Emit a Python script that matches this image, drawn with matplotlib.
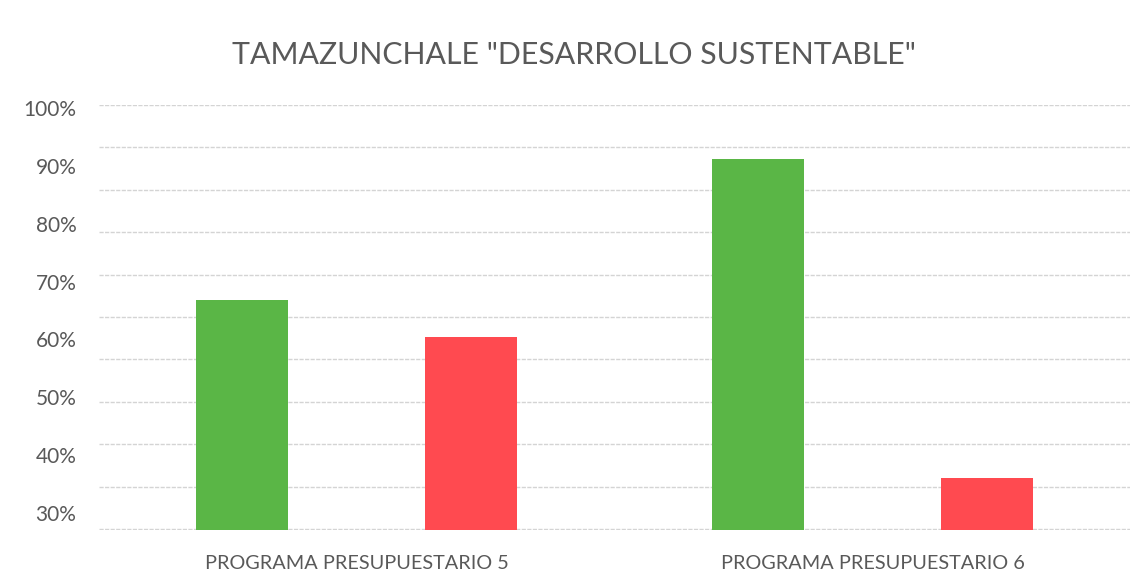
import matplotlib.pyplot as plt
import numpy as np

# datos
programas = ["PROGRAMA PRESUPUESTARIO 5", "PROGRAMA PRESUPUESTARIO 6"]
verde = [66.8, 91.2]
rojo = [60.4, 36.1]
etiquetas_y = [30, 40, 50, 60, 70, 80, 90, 100]

GRIS = "#595959"
FUENTE = "Lato"

fig = plt.figure(figsize=(11.47, 5.86), dpi=100)
fig.patch.set_facecolor("white")

# eje de fondo: cuadricula 0-100 y etiquetas de categoria
ax = fig.add_axes([0.0859, 0.0956, 0.8997, 0.7252])
x = np.arange(len(programas))
ax.set_xlim(-0.5, 1.5)
ax.set_ylim(-0.2, 100)
ax.set_yticks(np.arange(0, 101, 10))
ax.grid(axis="y", color="#d4d4d4", linewidth=1.0, linestyle=(0, (3, 1)))
ax.set_xticks(x)
ax.set_xticklabels(programas, fontsize=14.3, color=GRIS, family=FUENTE)
ax.tick_params(axis="both", length=0, labelleft=False)
ax.tick_params(axis="x", pad=18)
for s in ax.spines.values():
    s.set_visible(False)

# eje de las barras con la escala de las etiquetas
ax2 = ax.twinx()
ax2.set_ylim(27.06, 100.52)
ax2.yaxis.tick_left()
ancho = 0.178
ax2.bar(x - 0.222, verde, width=ancho, color="#5ab646")
ax2.bar(x + 0.222, rojo, width=ancho, color="#ff4a50")
ax2.set_yticks(etiquetas_y)
ax2.set_yticklabels([f"{v}%" for v in etiquetas_y], fontsize=15, color=GRIS, family=FUENTE)
ax2.tick_params(axis="y", length=0, pad=16)
for s in ax2.spines.values():
    s.set_visible(False)

fig.text(0.5, 0.906, 'TAMAZUNCHALE "DESARROLLO SUSTENTABLE"', ha="center", va="center",
         fontsize=21.8, color=GRIS, family=FUENTE)

fig.savefig("out.png", dpi=100)
